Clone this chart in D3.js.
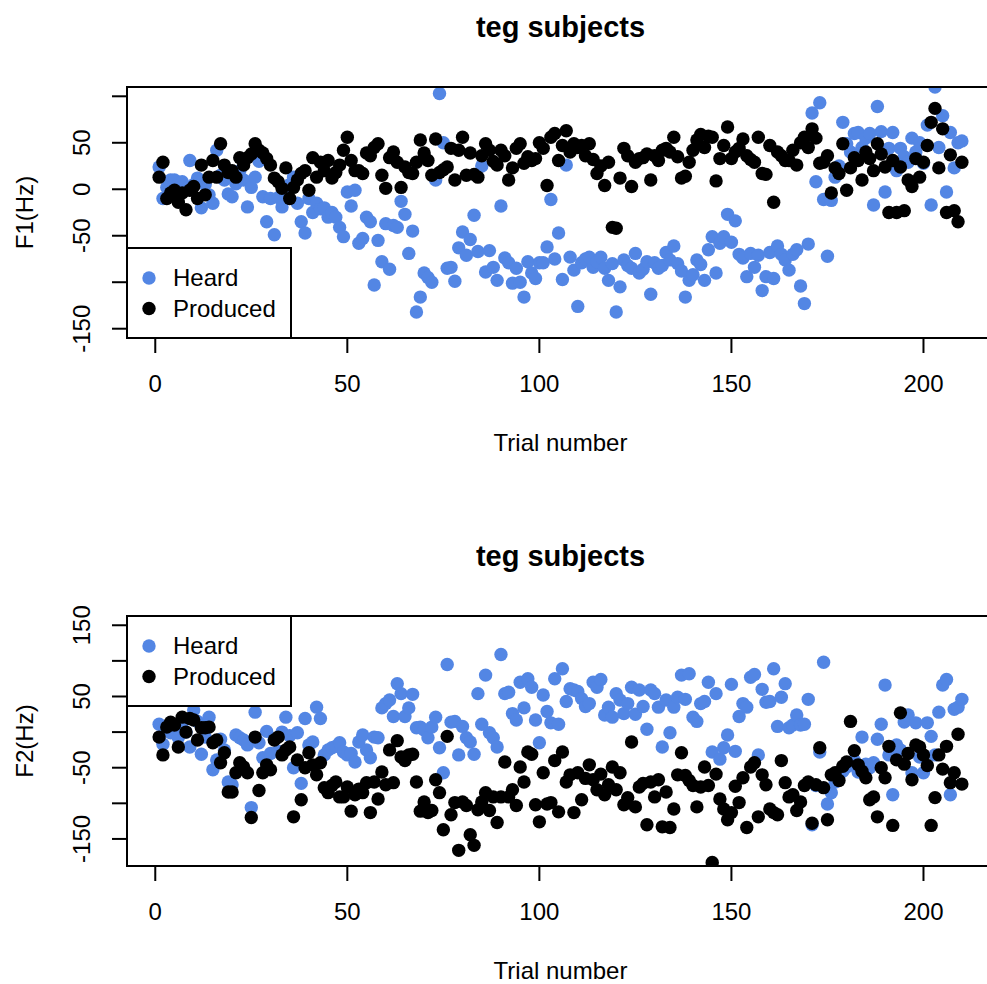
<!DOCTYPE html>
<html lang="en">
<head>
    <meta charset="UTF-8">
    <title>teg subjects</title>
    <script src="https://d3js.org/d3.v7.min.js"></script>
    <style>
        body {margin: 0; background: white;}
        text {font-family: "Liberation Sans", Arial, sans-serif; font-size: 24px; fill: black;}
        .title {font-weight: bold; font-size: 29px;}
    </style>
</head>
<body>
<script>
    const width = 987;
    const height = 984;

    // trial numbers 1..210
    const trials = d3.range(1, 211);

    // F1 shift (Hz)
    const f1Heard = [
        24, -10, 2, 10, 10, 5, 8, 0, 31, 5,
        12, -20, 5, -6, -15, 42, 15, 10, -5, -8,
        6, 20, 10, -19, 2, 13, 30, -8, -35, -10,
        -49, -9, -19, -5, 5, 13, -15, -35, -47, -10,
        -25, -15, -21, -20, -30, -25, -30, -41, -51, -3,
        -18, -1, -58, -53, -30, -35, -103, -55, -78, -37,
        -86, -39, -41, -13, -27, -69, -45, -132, -116, -90,
        -95, -100, 10, 103, 50, -85, -84, -99, -63, -46,
        -71, -54, -28, -67, 25, -89, -66, -84, -98, -18,
        -74, -79, -101, -85, -100, -116, -78, -90, -96, -79,
        -79, -62, -11, -75, -47, -97, 26, -73, -87, -126,
        -79, -75, -73, -84, -78, -73, -85, -98, -80, -132,
        -105, -76, -82, -85, -69, -90, -86, -78, -113, -79,
        -85, -82, -68, -76, -61, -80, -88, -116, -98, -92,
        -76, -81, -98, -65, -51, -90, -58, -51, -27, -57,
        -34, -70, -74, -94, -69, -84, -71, -109, -94, -68,
        -96, -61, -70, -76, -87, -70, -65, -104, -123, -59,
        82, 8, 93, -11, -72, -12, 13, 25, 72, 49,
        40, 60, 61, 45, 55, 60, -17, 89, 62, -3,
        44, 61, 20, 44, 35, 29, 55, 40, 50, 28,
        69, -17, 110, 45, 79, -3, 61, 23, 50, 52
    ];
    const f1Produced = [
        13, 29, -10, -4, -1, -14, -4, -22, -1, 3,
        -10, 26, -6, 13, 31, 13, 49, 26, 18, 20,
        13, 34, 26, 34, 38, 49, 42, 39, 33, 26,
        12, 8, 1, 23, -10, 2, 10, 17, 20, -1,
        34, 13, 29, 20, 31, 12, 18, 26, 42, 56,
        31, 20, 20, 17, 39, 36, 45, 49, 15, 1,
        34, 40, 29, 2, 24, 18, 17, 29, 53, 39,
        31, 15, 54, 18, 21, 24, 44, 10, 42, 56,
        15, 39, 16, 13, 36, 49, 42, 30, 26, 42,
        36, 10, 23, 44, 49, 28, 35, 31, 33, 50,
        44, 4, 56, 60, 31, 47, 63, 40, 49, 45,
        47, 36, 49, 32, 17, 25, 4, 29, -41, -42,
        12, 44, 36, 3, 29, 33, 34, 38, 10, 36,
        31, 42, 44, 40, 56, 35, 12, 14, 29, 42,
        53, 59, 45, 57, 56, 9, 33, 47, 67, 33,
        40, 44, 54, 36, 32, 29, 56, 17, 16, 47,
        -14, 40, 36, 31, 31, 42, 26, 50, 56, 45,
        65, 55, 28, 29, 36, -4, 23, 17, 49, -1,
        23, 34, 31, 10, 40, 33, 20, 49, 38, 24,
        -25, 31, -25, 24, -23, 10, 3, 33, 13, 29,
        47, 72, 87, 23, 65, -25, 37, -23, -35, 29
    ];

    // F2 shift (Hz)
    const f2Heard = [
        11, -17, 5, -1, 8, -8, 6, 0, -21, 31,
        15, -31, -7, 21, -53, -39, -10, -25, -70, -74,
        -4, -8, -11, -18, -106, 28, -15, -36, 1, -30,
        -10, -27, 0, 21, -5, -50, -1, -72, 19, -18,
        -14, 35, 19, -32, -25, -22, -20, -15, -28, -32,
        -30, -42, -14, -4, -25, -36, -7, -8, 34, 40,
        45, 22, 68, 54, 22, 34, 53, 6, 7, 3,
        -8, 7, 21, -22, -57, 95, 14, 15, -32, 8,
        -8, -14, -31, 54, 11, 80, -1, -8, -21, 109,
        54, 56, 26, 17, 70, 34, 75, 63, 17, -15,
        52, 29, 13, 75, 11, 89, 43, 61, 59, 57,
        47, 36, 40, 70, 63, 74, 24, 35, 21, 54,
        45, 26, 40, 63, 25, 59, 36, 4, 59, 54,
        35, -21, 45, -1, 35, 49, 80, 46, 82, 21,
        15, 40, 43, 70, -28, 54, -38, -22, -4, 67,
        -27, 22, 40, 35, 77, 81, -32, 60, 42, 43,
        89, 8, 49, 68, 6, 10, 24, 10, 11, 46,
        -130, -75, -28, 98, -101, -85, -70, -60, -55, -49,
        -46, -40, -56, -7, -45, -50, -43, -10, 11, 66,
        -32, -88, -18, -25, 14, 24, -57, 13, -35, -57,
        13, -6, -32, 28, 66, 74, -88, 32, 35, 46
    ];
    const f2Produced = [
        -7, -32, 7, 14, 10, -21, 21, 0, 19, 17,
        -11, 6, 6, 7, -15, -11, -43, -29, -84, -84,
        -57, -43, -49, -57, -120, -7, -82, -57, -46, -53,
        -11, -7, -32, -25, -21, -119, -39, -95, -50, -29,
        -46, -60, -43, -78, -85, -75, -70, -91, -91, -77,
        -111, -88, -80, -85, -71, -113, -70, -94, -56, -74,
        -25, -71, -12, -35, -40, -32, -31, -70, -111, -98,
        -113, -110, -67, -85, -137, -6, -116, -99, -166, -98,
        -103, -144, -159, -109, -98, -85, -110, -91, -127, -91,
        -42, -91, -81, -103, -49, -70, -28, -31, -102, -126,
        -57, -101, -99, -40, -112, -28, -70, -60, -113, -57,
        -95, -65, -46, -67, -81, -59, -88, -74, -49, -81,
        -57, -102, -92, -14, -105, -77, -72, -130, -70, -91,
        -67, -133, -84, -134, -108, -60, -29, -61, -68, -75,
        -105, -77, -49, -75, -183, -59, -94, -108, -123, -113,
        -76, -99, -64, -134, -49, -43, -119, -60, -74, -108,
        -113, -116, -40, -71, -91, -88, -110, -98, -75, -70,
        -128, -74, -22, -78, -123, -60, -57, -68, -48, -42,
        15, -26, -46, -55, -64, -95, -91, -119, -50, -64,
        -20, -131, -39, 27, -45, -30, -67, -18, -21, -32,
        -47, -131, -92, -32, -52, -20, -71, -57, -3, -73
    ];

    const xTicks = [0, 50, 100, 150, 200];
    const f1Ticks = [-150, -100, -50, 0, 50, 100];
    const f1Labels = [-150, -50, 0, 50];          // R drops the overlapping ones
    const f2Ticks = [-150, -100, -50, 0, 50, 100, 150];
    const f2Labels = [-150, -50, 50, 150];

    const seriesNames = ["Heard", "Produced"];
    const colors = ["#5386E4", "#000000"];

    const svg = d3.select("body").append("svg")
            .attr("width", width).attr("height", height);

    // R pads the limits by 4% on each side
    function pad(lo, hi) {
        const d = (hi - lo) * 0.04;
        return [lo - d, hi + d];
    }

    const x = d3.scaleLinear().domain(pad(1, 210)).range([127, 994]);

    function drawPanel(p) {
        const y = d3.scaleLinear().domain(pad(p.ylim[0], p.ylim[1])).range([p.bottom, p.top]);
        const g = svg.append("g");

        g.append("clipPath").attr("id", p.id)
                .append("rect")
                .attr("x", x.range()[0]).attr("y", p.top)
                .attr("width", x.range()[1] - x.range()[0]).attr("height", p.bottom - p.top);

        const pts = g.append("g").attr("clip-path", `url(#${p.id})`);
        [p.heard, p.produced].forEach((vals, k) => {
            pts.selectAll(null)
                    .data(trials)
                    .enter()
                    .append("circle")
                    .attr("cx", t => x(t))
                    .attr("cy", (t, i) => y(vals[i]))
                    .attr("r", 6.7)
                    .style("fill", colors[k]);
        });

        // box
        g.append("rect")
                .attr("x", x.range()[0]).attr("y", p.top)
                .attr("width", x.range()[1] - x.range()[0]).attr("height", p.bottom - p.top)
                .style("fill", "none").style("stroke", "black").style("stroke-width", 2);

        // x axis
        g.selectAll("line.xt").data(xTicks).enter().append("line")
                .attr("x1", d => x(d)).attr("x2", d => x(d))
                .attr("y1", p.bottom).attr("y2", p.bottom + 15)
                .style("stroke", "black").style("stroke-width", 2);
        g.append("line")
                .attr("x1", x(xTicks[0])).attr("x2", x(xTicks[xTicks.length - 1]))
                .attr("y1", p.bottom).attr("y2", p.bottom)
                .style("stroke", "black").style("stroke-width", 2);
        g.selectAll("text.xt").data(xTicks).enter().append("text")
                .attr("x", d => x(d)).attr("y", p.bottom + 54)
                .attr("text-anchor", "middle")
                .text(d => d);
        g.append("text")
                .attr("x", (x.range()[0] + x.range()[1]) / 2).attr("y", p.bottom + 113)
                .attr("text-anchor", "middle")
                .text("Trial number");

        // y axis
        g.selectAll("line.yt").data(p.ticks).enter().append("line")
                .attr("x1", 112).attr("x2", 127)
                .attr("y1", d => y(d)).attr("y2", d => y(d))
                .style("stroke", "black").style("stroke-width", 2);
        g.append("line")
                .attr("x1", 127).attr("x2", 127)
                .attr("y1", y(p.ticks[0])).attr("y2", y(p.ticks[p.ticks.length - 1]))
                .style("stroke", "black").style("stroke-width", 2);
        g.selectAll("text.yt").data(p.labels).enter().append("text")
                .attr("transform", d => `translate(90,${y(d)}) rotate(-90)`)
                .attr("text-anchor", "middle")
                .text(d => d);
        g.append("text")
                .attr("transform", `translate(33,${(p.top + p.bottom) / 2}) rotate(-90)`)
                .attr("text-anchor", "middle")
                .text(p.ylab);

        // title
        g.append("text").attr("class", "title")
                .attr("x", (x.range()[0] + x.range()[1]) / 2).attr("y", p.top - 50)
                .attr("text-anchor", "middle")
                .text("teg subjects");

        // legend
        const lg = g.append("g").attr("transform", `translate(127,${p.legendTop})`);
        lg.append("rect").attr("width", 164).attr("height", 90)
                .style("fill", "white").style("stroke", "black").style("stroke-width", 2);
        seriesNames.forEach((name, k) => {
            lg.append("circle").attr("cx", 22).attr("cy", 30 + k * 30.5).attr("r", 6.7)
                    .style("fill", colors[k]);
            lg.append("text").attr("x", 46).attr("y", 30 + k * 30.5).attr("dy", "0.35em")
                    .text(name);
        });
    }

    drawPanel({id: "clipF1", top: 87, bottom: 338, ylim: [-150, 100],
        heard: f1Heard, produced: f1Produced,
        ticks: f1Ticks, labels: f1Labels, ylab: "F1(Hz)", legendTop: 248});

    drawPanel({id: "clipF2", top: 616, bottom: 866, ylim: [-175, 150],
        heard: f2Heard, produced: f2Produced,
        ticks: f2Ticks, labels: f2Labels, ylab: "F2(Hz)", legendTop: 616});
</script>
</body>
</html>
